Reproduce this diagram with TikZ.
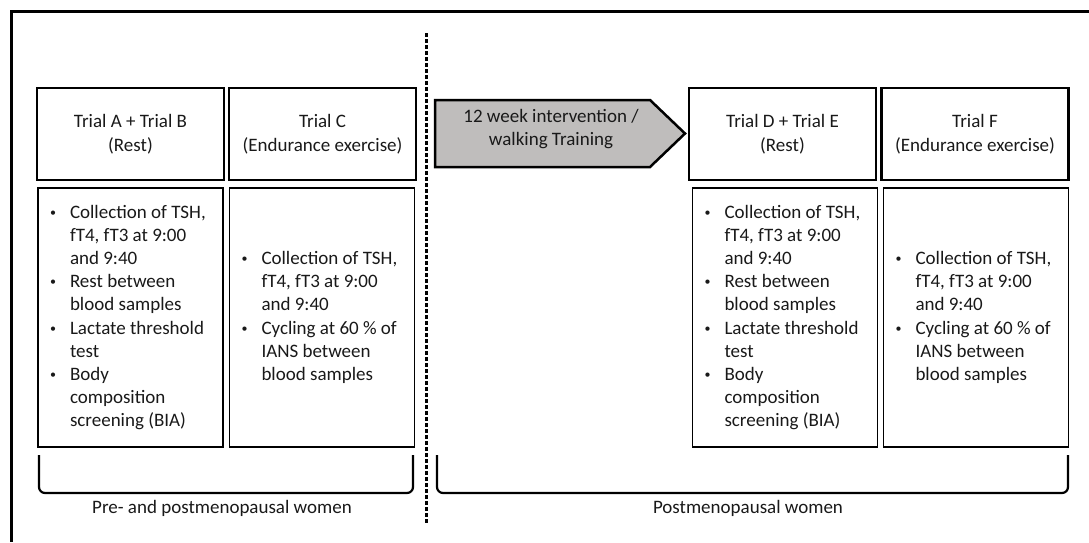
\documentclass[tikz,border=0pt]{standalone}
\usepackage{fontspec}
\setmainfont{Carlito}
\usepackage{tikz}
\usetikzlibrary{positioning}

\definecolor{walkgray}{RGB}{191,189,188}
\newcommand{\bitem}[1]{\par\noindent\hangindent=32pt\hangafter=0\llap{\makebox[32pt][l]{\hspace{12pt}\raisebox{1.8pt}{\fontsize{12}{12}\selectfont\textbullet}}}#1\par}
\newenvironment{bodylist}{\begin{minipage}{185pt}}{\end{minipage}}

\tikzset{
    trialhead/.style={draw, line width=2.5pt, minimum width=187pt, minimum height=92pt, align=center, text=black!90, font=\fontsize{19}{24}\selectfont},
    trialbody/.style={draw, line width=1.3pt, minimum width=185pt, minimum height=259pt, inner sep=0pt, text=black!90, font=\fontsize{19}{23.2}\selectfont},
    grouplabel/.style={text=black!90, font=\fontsize{19}{23}\selectfont},
    groupbrace/.style={line width=2.2pt, rounded corners=6pt},
    walkarrow/.style={draw, line width=2.5pt, fill=walkgray}
}

\begin{document}
\begin{tikzpicture}[x=1pt, y=-1pt]
                \useasboundingbox (0,0) rectangle (1089,542);
                \draw[line width=3pt] (1089,11) -- (11,11) -- (11,542);

                \coordinate (divTop) at (426.5,33);
                \coordinate (divBot) at (426.5,523);
                \draw[line width=2.5pt, dash pattern=on 4pt off 2pt] (divTop) -- (divBot);

                \node[trialhead] (hAB) at (130.5,134) {Trial A + Trial B\\(Rest)};
                \node[trialhead] (hC) at (322.5,134) {Trial C\\(Endurance exercise)};
                \node[trialhead] (hDE) at (782.5,134) {Trial D + Trial E\\(Rest)};
                \node[trialhead] (hF) at (975,134) {Trial F\\(Endurance exercise)};

                \draw[walkarrow] (435,100) -- (650,100) -- (685,133.5) -- (650,167) -- (435,167) -- cycle;
                \node[align=center, text=black!90, font=\fontsize{19}{23}\selectfont] (walk) at (551,129) {12 week intervention /\\walking Training};

                \node[trialbody] (bAB) at (130.5,317.5) {\begin{bodylist}\bitem{Collection of TSH,\\fT4, fT3 at 9:00\\and 9:40}\bitem{Rest between\\blood samples}\bitem{Lactate threshold\\test}\bitem{Body\\composition\\screening (BIA)}\end{bodylist}};
                \node[trialbody] (bC) at (322,317.5) {\begin{bodylist}\bitem{Collection of TSH,\\fT4, fT3 at 9:00\\and 9:40}\bitem{Cycling at 60 \% of\\IANS between\\blood samples}\end{bodylist}};
                \node[trialbody] (bDE) at (785,317.5) {\begin{bodylist}\bitem{Collection of TSH,\\fT4, fT3 at 9:00\\and 9:40}\bitem{Rest between\\blood samples}\bitem{Lactate threshold\\test}\bitem{Body\\composition\\screening (BIA)}\end{bodylist}};
                \node[trialbody] (bF) at (976,317.5) {\begin{bodylist}\bitem{Collection of TSH,\\fT4, fT3 at 9:00\\and 9:40}\bitem{Cycling at 60 \% of\\IANS between\\blood samples}\end{bodylist}};

                \draw[groupbrace] (39,455) -- (39,493) -- (413,493) -- (413,455);
                \draw[groupbrace] (437,455) -- (437,493) -- (1068,493) -- (1068,455);

                \node[grouplabel] (preLbl) at (222,508) {Pre- and postmenopausal women};
                \node[grouplabel] (postLbl) at (748,508) {Postmenopausal women};
            \end{tikzpicture}
\end{document}
